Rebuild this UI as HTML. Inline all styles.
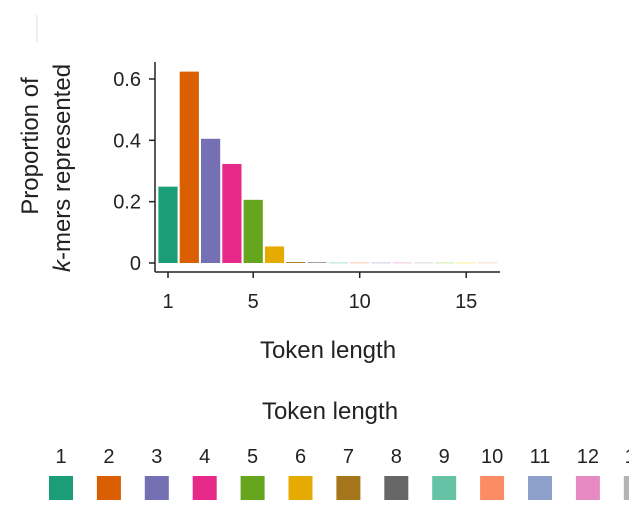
<!DOCTYPE html>
<html><head><meta charset="utf-8"><style>
body{margin:0;background:#fff;width:629px;height:521px;overflow:hidden;font-family:"Liberation Sans",sans-serif}
</style></head><body>
<svg width="629" height="521" font-family="Liberation Sans, sans-serif">
<line x1="37" y1="15" x2="37" y2="42" stroke="#ddd" stroke-width="1"/>
<g id="plot"></g>
<g id="legend"></g>
</svg>
<script>
const categories=[1,2,3,4,5,6,7,8,9,10,11,12,13,14,15,16];
const values=[0.249,0.624,0.405,0.323,0.206,0.054,0.003,0.002,0.001,0.001,0.001,0.001,0.001,0.001,0.001,0.001];
const yTicks=[0,0.2,0.4,0.6];
const yTickLabels=["0","0.2","0.4","0.6"];
const xTicks=[1,5,10,15];
const legendLabels=["1","2","3","4","5","6","7","8","9","10","11","12","13"];
const colors=["#1b9e77","#d95f02","#7570b3","#e7298a","#66a61e","#e6ab02","#a6761d","#666666","#66c2a5","#fc8d62","#8da0cb","#e78ac3","#b3b3b3","#a6d854","#ffd92f","#e5c494"];
const NS="http://www.w3.org/2000/svg";
const x=v=>168+(v-1)*21.3;
const y=v=>263-v*306.7;
const plot=document.getElementById('plot');
function mk(tag,attrs,parent){const e=document.createElementNS(NS,tag);for(const k in attrs)e.setAttribute(k,attrs[k]);parent.appendChild(e);return e;}
categories.forEach((c,i)=>{
 const r=mk('rect',{x:x(c)-9.6,y:y(values[i]),width:19.2,height:Math.max(0.5,263-y(values[i])),fill:colors[i]},plot);
 
 
});
let ax=mk('line',{x1:155,y1:62,x2:155,y2:272,stroke:'#222','stroke-width':1.5},plot);


ax=mk('line',{x1:155,y1:272,x2:500,y2:272,stroke:'#222','stroke-width':1.5},plot);


yTicks.forEach((t,i)=>{
 mk('line',{x1:149,x2:155,y1:y(t),y2:y(t),stroke:'#222','stroke-width':1.5},plot);
 const tx=mk('text',{x:141,y:y(t)+7,'text-anchor':'end','font-size':20,fill:'#222'},plot);
 tx.textContent=yTickLabels[i];
 
 
});
xTicks.forEach(t=>{
 mk('line',{x1:x(t),x2:x(t),y1:272,y2:278,stroke:'#222','stroke-width':1.5},plot);
 const tx=mk('text',{x:x(t),y:308,'text-anchor':'middle','font-size':20,fill:'#222'},plot);
 tx.textContent=t;
 
 
});
let t=mk('text',{x:328,y:358,'text-anchor':'middle','font-size':24,fill:'#222'},plot);
t.textContent='Token length';


t=mk('text',{transform:'translate(38,146) rotate(-90)','text-anchor':'middle','font-size':24,fill:'#222'},plot);
t.textContent='Proportion of';


t=mk('text',{transform:'translate(70,168) rotate(-90)','text-anchor':'middle','font-size':24,fill:'#222'},plot);
t.innerHTML='<tspan font-style="italic">k</tspan>-mers represented';


const lg=document.getElementById('legend');
t=mk('text',{x:330,y:419,'text-anchor':'middle','font-size':24,fill:'#222'},lg);
t.textContent='Token length';


legendLabels.forEach((l,i)=>{
 const cx=61+i*47.9;
 const r=mk('rect',{x:cx-12,y:476,width:24,height:24,fill:colors[i]},lg);
 
 
 const tx=mk('text',{x:cx,y:463,'text-anchor':'middle','font-size':20,fill:'#222'},lg);
 tx.textContent=l;
 
 
});
</script>
</body></html>
